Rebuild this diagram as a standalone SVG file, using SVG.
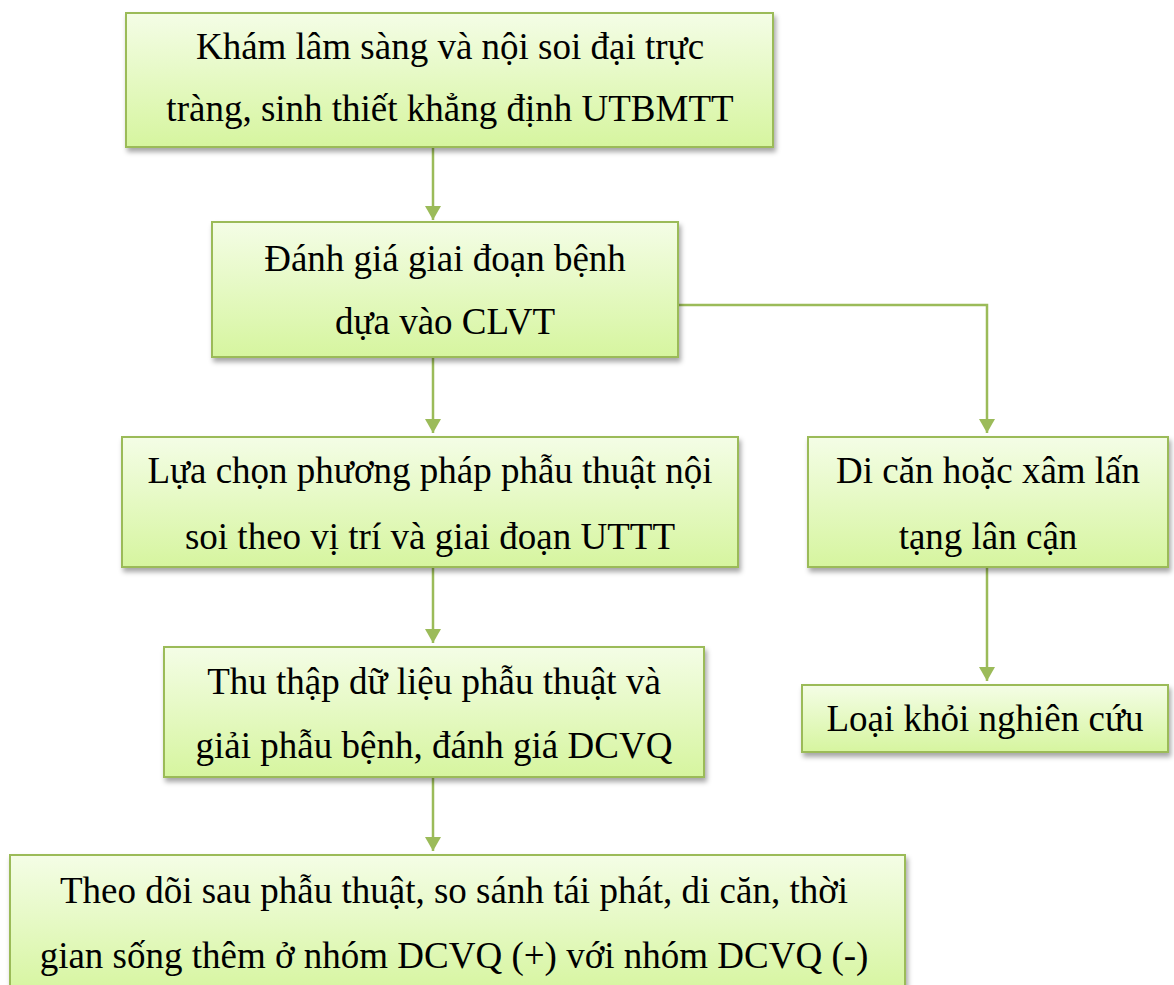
<svg xmlns="http://www.w3.org/2000/svg" width="1174" height="985" viewBox="0 0 1174 985">
<style>
.box{fill:url(#g);stroke:#9bbb59;stroke-width:2;filter:url(#sh)}
.t{font-family:"Liberation Serif","Times New Roman",serif;font-size:37px;fill:#000;text-anchor:middle}
.c{fill:none;stroke:#9bbb59;stroke-width:2.5;marker-end:url(#ah2)}
</style>
<defs>
<linearGradient id="g" x1="0" y1="0" x2="0" y2="1">
<stop offset="0" stop-color="#f4fde6"/>
<stop offset="1" stop-color="#d6f59f"/>
</linearGradient>
<filter id="sh" x="-5%" y="-10%" width="115%" height="130%">
<feDropShadow dx="2" dy="4" stdDeviation="2.5" flood-color="#000" flood-opacity="0.35"/>
</filter>
<marker id="ah2" viewBox="0 0 14 16" refX="14" refY="8" markerWidth="14" markerHeight="16" orient="auto" markerUnits="userSpaceOnUse">
<path d="M0,0 L14,8 L0,16 z" fill="#9bbb59"/>
</marker>
</defs>
<g id="connectors">
<line class="c" x1="433" y1="148" x2="433" y2="220"/>
<line class="c" x1="433" y1="358" x2="433" y2="433"/>
<polyline class="c" points="679,305 987,305 987,433"/>
<line class="c" x1="433" y1="568" x2="433" y2="643"/>
<line class="c" x1="987" y1="568" x2="987" y2="681"/>
<line class="c" x1="433" y1="778" x2="433" y2="851"/>
</g>
<g id="n1">
<rect class="box" x="126" y="13" width="647" height="134"/>
<text class="t" x="450" y="59">Khám lâm sàng và nội soi đại trực</text>
<text class="t" x="450" y="121">tràng, sinh thiết khẳng định UTBMTT</text>
</g>
<g id="n2">
<rect class="box" x="212" y="222" width="466" height="135"/>
<text class="t" x="445" y="271">Đánh giá giai đoạn bệnh</text>
<text class="t" x="445" y="334">dựa vào CLVT</text>
</g>
<g id="n3">
<rect class="box" x="122" y="437" width="616" height="130"/>
<text class="t" x="430" y="483">Lựa chọn phương pháp phẫu thuật nội</text>
<text class="t" x="430" y="549">soi theo vị trí và giai đoạn UTTT</text>
</g>
<g id="n4">
<rect class="box" x="808" y="437" width="360" height="130"/>
<text class="t" x="988" y="483">Di căn hoặc xâm lấn</text>
<text class="t" x="988" y="549">tạng lân cận</text>
</g>
<g id="n5">
<rect class="box" x="164" y="647" width="540" height="130"/>
<text class="t" x="434" y="694">Thu thập dữ liệu phẫu thuật và</text>
<text class="t" x="434" y="758">giải phẫu bệnh, đánh giá DCVQ</text>
</g>
<g id="n6">
<rect class="box" x="802" y="685" width="366" height="67"/>
<text class="t" x="985" y="731">Loại khỏi nghiên cứu</text>
</g>
<g id="n7">
<rect class="box" x="10" y="855" width="895" height="140"/>
<text class="t" x="454" y="903">Theo dõi sau phẫu thuật, so sánh tái phát, di căn, thời</text>
<text class="t" x="454" y="968">gian sống thêm ở nhóm DCVQ (+) với nhóm DCVQ (-)</text>
</g>
</svg>
